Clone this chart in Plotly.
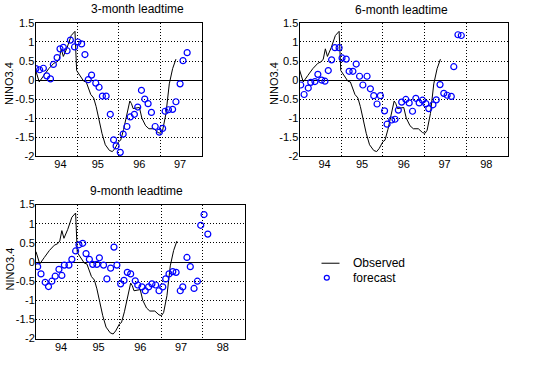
import plotly.graph_objects as go

W, H = 536, 385

# ---------------- data ----------------
obs_t = [94.00, 94.09, 94.20, 94.32, 94.44, 94.52, 94.57, 94.62, 94.67, 94.76, 94.86, 94.91, 94.95,
         94.99, 95.03, 95.10, 95.16, 95.22, 95.27, 95.33, 95.40, 95.46, 95.53, 95.60, 95.68, 95.78,
         95.85, 95.91, 96.00, 96.05, 96.12, 96.20, 96.27, 96.31, 96.35, 96.50, 96.56, 96.65, 96.73,
         96.85, 96.95, 97.01, 97.06, 97.14, 97.22, 97.30, 97.38]
obs_v = [0.27, -0.05, 0.12, 0.30, 0.44, 0.48, 0.55, 0.82, 0.62, 0.85, 1.17, 1.25, 1.28,
         0.25, 0.18, 0.05, -0.03, -0.05, -0.22, -0.38, -0.47, -0.70, -1.05, -1.40, -1.70, -1.85,
         -1.88, -1.80, -1.62, -1.58, -1.30, -0.90, -0.55, -0.62, -0.75, -0.72, -1.00, -1.20, -1.28,
         -1.28, -1.38, -1.40, -1.32, -0.88, -0.10, 0.30, 0.55]

f3_t = [94.01, 94.10, 94.19, 94.27, 94.36, 94.43, 94.52, 94.59, 94.67, 94.76, 94.84, 94.94, 95.02,
        95.11, 95.19, 95.27, 95.35, 95.45, 95.53, 95.61, 95.70, 95.80, 95.88, 95.94, 96.04, 96.11,
        96.20, 96.28, 96.38, 96.46, 96.55, 96.63, 96.71, 96.79, 96.88, 96.98, 97.06, 97.12, 97.20,
        97.30, 97.38, 97.48, 97.55, 97.65]
f3_v = [0.30, 0.27, 0.31, 0.11, 0.03, 0.41, 0.59, 0.82, 0.86, 0.77, 1.05, 0.87, 1.00,
        0.95, 0.67, 0.01, 0.13, -0.08, -0.19, -0.42, -0.42, -0.90, -1.57, -1.73, -1.90, -1.42,
        -1.22, -0.97, -0.90, -0.71, -0.27, -0.50, -0.62, -0.85, -1.22, -1.37, -1.27, -0.82, -0.78,
        -0.77, -0.57, -0.10, 0.51, 0.72]

f6_t = [94.03, 94.11, 94.21, 94.27, 94.37, 94.44, 94.53, 94.61, 94.69, 94.77, 94.85, 94.95, 95.02,
        95.12, 95.19, 95.28, 95.36, 95.44, 95.52, 95.62, 95.70, 95.78, 95.86, 95.94, 96.04, 96.10,
        96.21, 96.29, 96.37, 96.45, 96.55, 96.63, 96.71, 96.79, 96.87, 96.95, 97.03, 97.10, 97.20,
        97.28, 97.37, 97.46, 97.54, 97.64, 97.70, 97.80, 97.88]
f6_v = [-0.13, -0.38, -0.21, -0.06, -0.04, 0.15, 0.00, -0.03, 0.25, 0.53, 0.85, 0.85, 0.58,
        0.55, 0.23, 0.23, 0.42, 0.10, -0.13, 0.10, -0.23, -0.41, -0.63, -0.41, -0.81, -1.16,
        -1.05, -1.03, -0.79, -0.58, -0.51, -0.60, -0.82, -0.48, -0.60, -0.53, -0.62, -0.75, -0.65,
        -0.52, -0.12, -0.35, -0.40, -0.43, 0.35, 1.19, 1.17]

f9_t = [94.04, 94.12, 94.22, 94.30, 94.38, 94.46, 94.55, 94.62, 94.68, 94.79, 94.86, 94.95, 95.03,
        95.12, 95.20, 95.28, 95.36, 95.46, 95.52, 95.62, 95.70, 95.79, 95.87, 95.94, 96.03, 96.11,
        96.19, 96.27, 96.38, 96.44, 96.54, 96.62, 96.70, 96.78, 96.87, 96.95, 97.04, 97.11, 97.19,
        97.28, 97.36, 97.46, 97.52, 97.62, 97.70, 97.79, 97.87, 97.95, 98.03, 98.12]
f9_v = [-0.12, -0.31, -0.53, -0.64, -0.50, -0.37, -0.19, -0.35, -0.08, -0.08, 0.07, 0.29, 0.45,
        0.49, 0.22, 0.07, -0.06, -0.06, 0.11, -0.08, -0.44, -0.16, 0.39, -0.08, -0.57, -0.48,
        -0.27, -0.31, -0.49, -0.60, -0.65, -0.75, -0.65, -0.57, -0.60, -0.75, -0.65, -0.44, -0.31,
        -0.25, -0.27, -0.75, -0.65, 0.12, -0.12, -0.69, -0.50, 0.96, 1.24, 0.73]

panel_titles = ["3-month leadtime", "6-month leadtime", "9-month leadtime"]
y_label = "NINO3.4"
year_labels = ["94", "95", "96", "97", "98"]
year_label_pos = [94.6, 95.5, 96.5, 97.48, 98.48]
year_bounds = [95, 96, 97, 98]
y_ticks = [-2, -1.5, -1, -0.5, 0, 0.5, 1, 1.5]
y_ticktext = ["-2", "-1.5", "-1", "-0.5", "0", "0.5", "1", "1.5"]
legend_labels = ["Observed", "forecast"]

# ---------------- layout helpers ----------------
def fx(px):
    return px / W

def fy(py):
    return 1 - py / H

FONT = "Liberation Sans, Arial, Helvetica, sans-serif"
TICKFONT = dict(family=FONT, size=11, color="black")

panels = [
    dict(box=(35.5, 201.7, 17.5, 155.0), xr=[94, 98], f=(f3_t, f3_v)),
    dict(box=(299.5, 508.0, 17.5, 155.0), xr=[94, 99], f=(f6_t, f6_v)),
    dict(box=(36.0, 244.5, 205.0, 343.3), xr=[94, 99], f=(f9_t, f9_v)),
]
title_pos = [(137, 3.0), (401, 4.0), (136, 191.0)]
ylab_pos = [(8.5, 80), (273.5, 80), (10, 272)]

fig = go.Figure()
layout = dict(
    width=W, height=H,
    margin=dict(l=0, r=0, t=0, b=0),
    paper_bgcolor="white", plot_bgcolor="white",
    showlegend=False,
    annotations=[], shapes=[],
)

for i, p in enumerate(panels):
    n = "" if i == 0 else str(i + 1)
    l, r, t, b = p["box"]
    xr = p["xr"]
    ticks_in = [v for v in year_label_pos if v < xr[1]]
    texts_in = [lab for v, lab in zip(year_label_pos, year_labels) if v < xr[1]]
    grid_in = [v for v in year_bounds if v < xr[1]]
    layout["xaxis" + n] = dict(
        domain=[fx(l), fx(r)], range=xr, anchor="y" + n,
        tickmode="array", tickvals=ticks_in, ticktext=texts_in,
        ticks="", showgrid=False, zeroline=False,
        showline=True, mirror=True, linecolor="black", linewidth=1,
        tickfont=TICKFONT, ticklabelstandoff=-2,
        minor=dict(tickmode="array", tickvals=grid_in, showgrid=True,
                   gridcolor="black", gridwidth=1, griddash="1px,2px", ticks=""),
    )
    layout["yaxis" + n] = dict(
        domain=[fy(b), fy(t)], range=[-2, 1.5], anchor="x" + n,
        tickmode="array", tickvals=y_ticks, ticktext=y_ticktext,
        ticks="", showgrid=True, gridcolor="black", gridwidth=1, griddash="1px,2px",
        zeroline=True, zerolinecolor="black", zerolinewidth=1,
        showline=True, mirror=True, linecolor="black", linewidth=1,
        tickfont=TICKFONT, ticklabelstandoff=-2,
    )
    fig.add_trace(go.Scatter(x=obs_t, y=obs_v, mode="lines",
                             line=dict(color="black", width=1),
                             xaxis="x" + n, yaxis="y" + n, name=legend_labels[0]))
    ft, fv = p["f"]
    fig.add_trace(go.Scatter(x=ft, y=fv, mode="markers",
                             marker=dict(symbol="circle-open", color="blue", size=6,
                                         line=dict(width=1.2, color="blue")),
                             xaxis="x" + n, yaxis="y" + n, name=legend_labels[1]))
    tx, ty = title_pos[i]
    layout["annotations"].append(dict(
        x=fx(tx), y=fy(ty), xref="paper", yref="paper", text=panel_titles[i],
        showarrow=False, xanchor="center", yanchor="middle",
        font=dict(family=FONT, size=12, color="black")))
    lx, ly = ylab_pos[i]
    layout["annotations"].append(dict(
        x=fx(lx), y=fy(ly), xref="paper", yref="paper", text=y_label, textangle=-90,
        showarrow=False, xanchor="center", yanchor="middle",
        font=dict(family=FONT, size=11, color="black")))

# manual legend
layout["shapes"].append(dict(type="line", xref="paper", yref="paper",
                             x0=fx(321.5), x1=fx(339.5), y0=fy(265.5), y1=fy(265.5),
                             line=dict(color="black", width=1)))
layout["shapes"].append(dict(type="circle", xref="paper", yref="paper",
                             x0=fx(324.3), x1=fx(329.3), y0=fy(283), y1=fy(278),
                             line=dict(color="blue", width=1.2)))
for lab, yy in zip(legend_labels, [265.5, 280.5]):
    layout["annotations"].append(dict(
        x=fx(350.5), y=fy(yy), xref="paper", yref="paper", text=lab,
        showarrow=False, xanchor="left", yanchor="middle",
        font=dict(family=FONT, size=12, color="black")))

fig.update_layout(**layout)
fig.write_html("out.html", config={"displayModeBar": False, "staticPlot": True},
               post_script="document.body.style.margin='0';document.body.style.overflow='hidden';")
